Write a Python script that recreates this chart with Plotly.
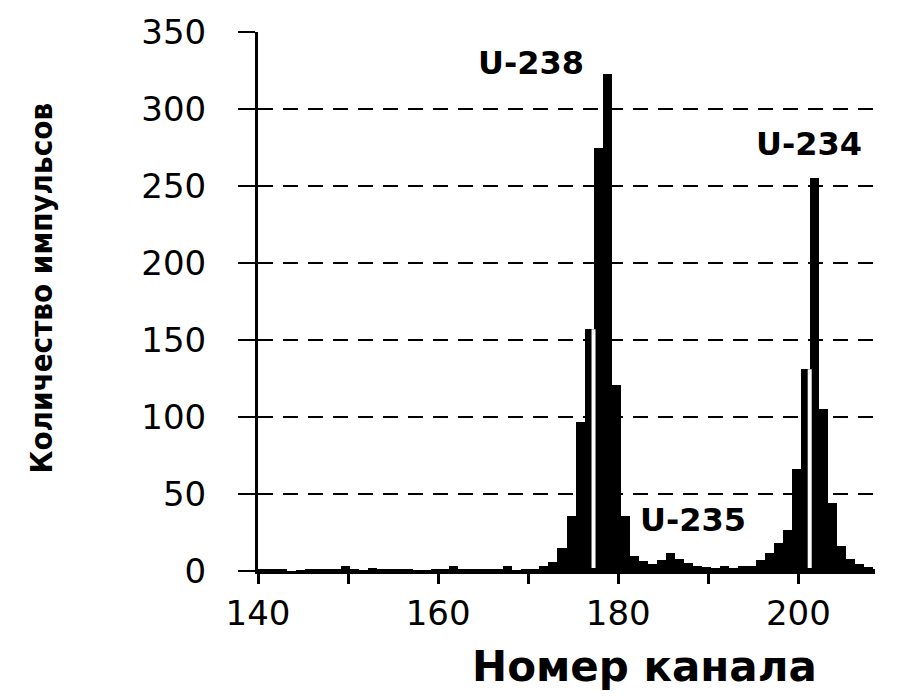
import plotly.graph_objects as go

# ---- data ----
channels = list(range(140, 210))
counts = [
    1.5, 1.5, 1.5, 1.5, 0, 0.5, 1.5, 1.5, 1.5, 1.5,      # 140-149
    3, 1.5, 0.5, 2, 1.5, 1.5, 1.5, 1.5, 0.5, 0.5,        # 150-159
    1.5, 1.5, 3, 1.5, 1.5, 1.5, 1.5, 1.5, 3, 0.5,        # 160-169
    1.5, 1.5, 3, 6, 15, 36, 97, 157, 275, 323,           # 170-179
    121, 36, 10, 6.5, 4.5, 7, 12, 8, 5, 3,               # 180-189
    2.5, 2, 3, 2, 3.5, 3.5, 7, 11.5, 18, 26.5,           # 190-199
    66, 131, 255, 105, 44, 16, 8, 4.5, 2.5, 1,           # 200-209
]
x_tick_vals = [140, 150, 160, 170, 180, 190, 200]
x_tick_text = ["140", "", "160", "", "180", "", "200"]
y_tick_vals = [0, 50, 100, 150, 200, 250, 300, 350]
gap_before_channels = [178, 202]

peak_labels = ["U-238", "U-235", "U-234"]
peak_label_x = [170.3, 188.3, 201.2]
peak_label_y = [330, 33, 277]

x_title = "Номер канала"
y_title = "Количество импульсов"

BAR_OFFSET = -0.75

fig = go.Figure()
fig.add_trace(go.Bar(
    x=channels, y=counts, width=1, offset=BAR_OFFSET,
    marker=dict(color="black", line=dict(width=0)),
    showlegend=False, hoverinfo="x+y",
))

shapes = []
for ch in gap_before_channels:
    i = channels.index(ch)
    shapes.append(dict(
        type="line", xref="x", yref="y",
        x0=ch + BAR_OFFSET, x1=ch + BAR_OFFSET,
        y0=2, y1=min(counts[i - 1], counts[i]),
        line=dict(color="white", width=4), layer="above",
    ))

annotations = []
for t, ax, ay in zip(peak_labels, peak_label_x, peak_label_y):
    annotations.append(dict(
        text=t, x=ax, y=ay, xref="x", yref="y", showarrow=False,
        font=dict(family="DejaVu Sans", size=32, color="black", weight="bold"),
        xanchor="center", yanchor="middle",
    ))
annotations.append(dict(
    text=y_title, x=-0.352, y=0.524, xref="paper", yref="paper",
    showarrow=False, textangle=-90,
    font=dict(family="DejaVu Sans Condensed, Liberation Sans Narrow, DejaVu Sans",
              size=31, color="black", weight="bold"),
    xanchor="center", yanchor="middle",
))
annotations.append(dict(
    text=x_title, x=0.626, y=-0.178, xref="paper", yref="paper",
    showarrow=False,
    font=dict(family="DejaVu Sans", size=42, color="black", weight="bold"),
    xanchor="center", yanchor="middle",
))

fig.update_layout(
    width=902, height=696,
    margin=dict(l=258, r=27, t=24, b=125),
    paper_bgcolor="white", plot_bgcolor="white",
    bargap=0,
    shapes=shapes,
    annotations=annotations,
    xaxis=dict(
        range=[140, 208.5],
        tickvals=x_tick_vals, ticktext=x_tick_text,
        ticks="outside", ticklen=10, tickwidth=3, tickcolor="black",
        showline=True, linewidth=3, linecolor="black",
        showgrid=False, zeroline=False,
        tickfont=dict(family="DejaVu Sans", size=34, color="black"),
        ticklabelstandoff=0,
    ),
    yaxis=dict(
        range=[0, 350],
        tickvals=y_tick_vals,
        ticks="outside", ticklen=17, tickwidth=2, tickcolor="black",
        showline=True, linewidth=3, linecolor="black",
        showgrid=True, gridcolor="black", gridwidth=2, griddash="15px,10px",
        zeroline=False,
        tickfont=dict(family="DejaVu Sans", size=34, color="black"),
        ticklabelstandoff=25,
    ),
)

fig.write_html("out.html")
